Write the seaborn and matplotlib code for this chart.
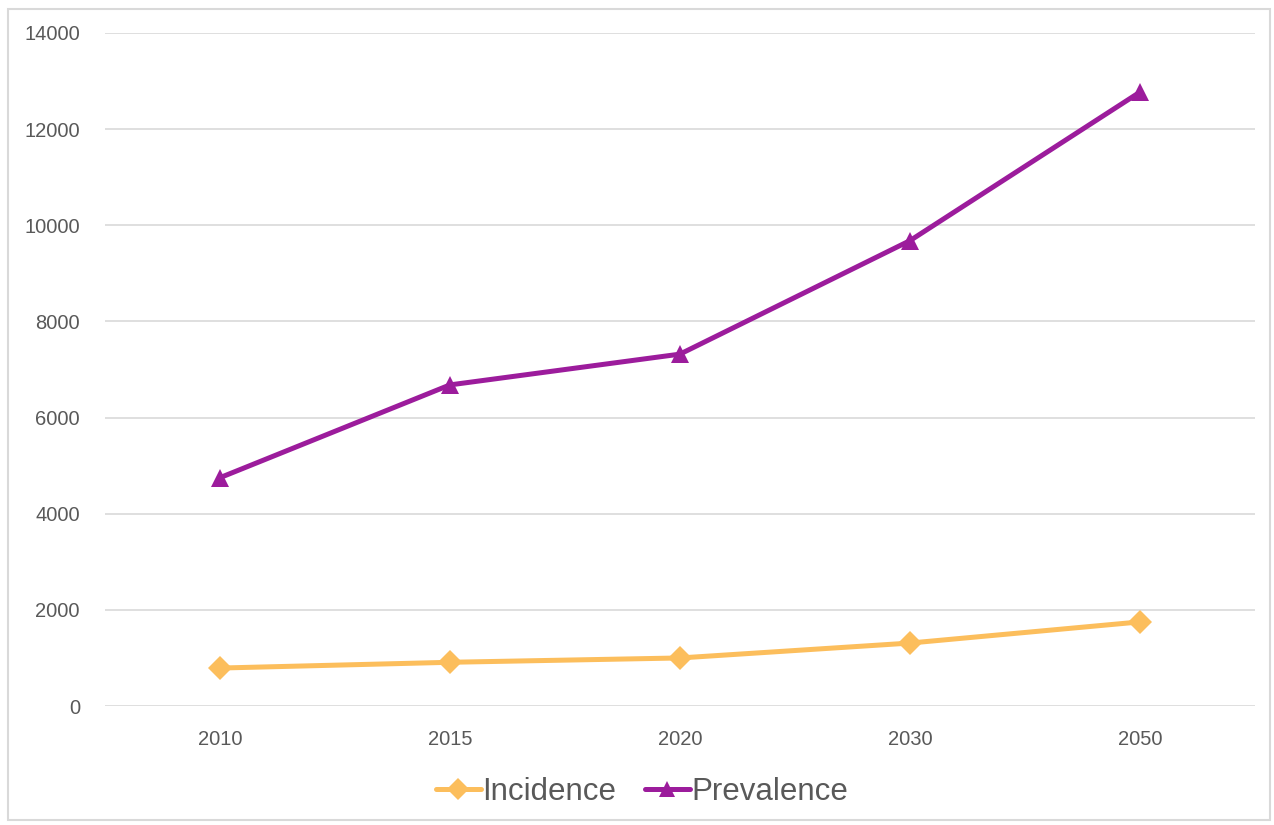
import pandas as pd
import matplotlib.pyplot as plt
import seaborn as sns
from matplotlib.patches import Rectangle

years = ["2010", "2015", "2020", "2030", "2050"]
incidence = [790, 910, 1000, 1310, 1750]
prevalence = [4750, 6680, 7320, 9680, 12770]

df = pd.DataFrame({
    "year": years * 2,
    "value": incidence + prevalence,
    "series": ["Incidence"] * len(years) + ["Prevalence"] * len(years),
})

sns.set_theme(style="white")
plt.rcParams["font.family"] = ["Liberation Sans", "DejaVu Sans"]

fig = plt.figure(figsize=(12.74, 8.25), dpi=100)
ax = fig.add_axes([0.0824, 0.1442, 0.9026, 0.8158])

palette = {"Incidence": "#FCBE5C", "Prevalence": "#9C1C9C"}
markers = {"Incidence": "D", "Prevalence": "^"}

sns.lineplot(
    data=df, x="year", y="value", hue="series", style="series",
    palette=palette, markers=markers, dashes=False,
    linewidth=3.6, markersize=12.5, markeredgewidth=0, ax=ax,
)

ax.set_xlim(-0.5, 4.5)
ax.set_ylim(0, 14000)
ax.set_yticks(range(0, 14001, 2000))
ax.yaxis.grid(True, color="#D9D9D9", linewidth=1.2)
ax.set_axisbelow(True)
for s in ax.spines.values():
    s.set_visible(False)
ax.tick_params(axis="both", length=0, labelsize=14.5, colors="#595959")
ax.tick_params(axis="y", pad=18)
ax.tick_params(axis="x", pad=17)
ax.set_xlabel("")
ax.set_ylabel("")

handles, labels = ax.get_legend_handles_labels()
for h in handles:
    h.set_markersize(11)
ax.legend(
    handles, labels, loc="center", bbox_to_anchor=(0.467, -0.128),
    ncol=2, frameon=False, handlelength=1.45,
    handletextpad=0.05, columnspacing=0.9, labelcolor="#595959",
    prop={"family": ["Liberation Sans", "DejaVu Sans"], "size": 22.5},
)

fig.add_artist(Rectangle((8 / 1274, 5 / 825), 1262 / 1274, 811 / 825,
                         transform=fig.transFigure, fill=False,
                         edgecolor="#D9D9D9", linewidth=1.5))

fig.savefig("out.png", dpi=100)
